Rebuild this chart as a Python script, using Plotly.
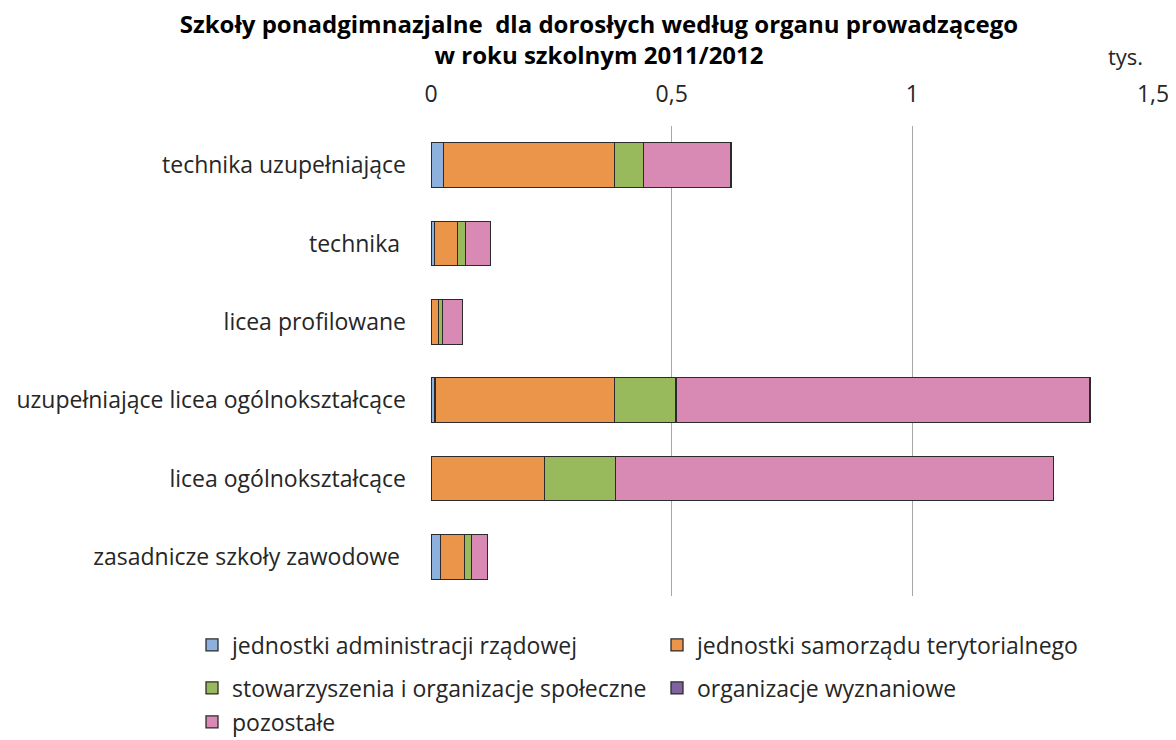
import plotly.graph_objects as go

categories = [
    "technika uzupełniające",
    "technika",
    "licea profilowane",
    "uzupełniające licea ogólnokształcące",
    "licea ogólnokształcące",
    "zasadnicze szkoły zawodowe",
]
# as printed on the chart (two labels carry a trailing space)
category_labels = [
    "technika uzupełniające",
    "technika\u00a0",
    "licea profilowane",
    "uzupełniające licea ogólnokształcące",
    "licea ogólnokształcące",
    "zasadnicze szkoły zawodowe\u00a0",
]

series_names = [
    "jednostki administracji rządowej",
    "jednostki samorządu terytorialnego",
    "stowarzyszenia i organizacje społeczne",
    "organizacje wyznaniowe",
    "pozostałe",
]

admin_rzadowa = [0.026, 0.007, 0.001, 0.008, 0.000, 0.020]
samorzad = [0.355, 0.048, 0.014, 0.373, 0.236, 0.049]
stowarzyszenia = [0.060, 0.016, 0.009, 0.127, 0.147, 0.015]
wyznaniowe = [0.000, 0.000, 0.000, 0.002, 0.000, 0.000]
pozostale = [0.182, 0.053, 0.041, 0.859, 0.910, 0.033]

colors = ["#8DB1DC", "#EB954A", "#98B95C", "#7F62A0", "#D889B4"]

tick_vals = [0, 0.5, 1, 1.5]
tick_text = ["0", "0,5", "1", "1,5"]

font_family = "'Open Sans', Lato, sans-serif"

# the page places the figure 8px from the top-left corner (body margin)
OFF = 8
W, H = 1176 - OFF, 740 - OFF
ML, MT = 431 - OFF, 126 - OFF
MR = W - (1153 - OFF)
MB = H - (596 - OFF)
PW, PH = W - ML - MR, H - MT - MB


def px_x(x):
    """page pixel x -> paper coordinate"""
    return (x - OFF - ML) / PW


def px_y(y):
    """page pixel y -> paper coordinate"""
    return (H - MB - (y - OFF)) / PH


legend_of = ["legend", "legend", "legend2", "legend2", "legend3"]

fig = go.Figure()
for name, vals, col, lg in zip(series_names,
                               [admin_rzadowa, samorzad, stowarzyszenia, wyznaniowe, pozostale],
                               colors, legend_of):
    fig.add_trace(go.Bar(
        y=categories, x=vals, name=name, orientation="h",
        marker=dict(color=col, line=dict(color="#2B2B2B", width=1.3)),
        legend=lg,
    ))

legend_common = dict(
    orientation="h", xanchor="left", yanchor="middle",
    entrywidth=420, entrywidthmode="pixels",
    font=dict(family=font_family, size=23, color="#262626"),
    traceorder="normal", itemwidth=30, bgcolor="rgba(0,0,0,0)",
)

fig.update_layout(
    barmode="stack",
    bargap=0.43,
    width=W, height=H,
    margin=dict(l=ML, r=MR, t=MT, b=MB, autoexpand=False),
    paper_bgcolor="white", plot_bgcolor="white",
    font=dict(family=font_family, size=23, color="#262626"),
    title=dict(
        text="<b>Szkoły ponadgimnazjalne  dla dorosłych według organu prowadzącego<br>w roku szkolnym 2011/2012</b>",
        x=(599 - OFF) / W, xref="container", xanchor="center",
        y=1 - 25 / H, yref="container", yanchor="top",
        font=dict(family=font_family, size=24, color="black"),
    ),
    xaxis=dict(
        side="top", range=[0, 1.5], tickvals=tick_vals, ticktext=tick_text,
        showgrid=True, gridcolor="#A6A6A6", gridwidth=1.3,
        zeroline=False, showline=False, ticks="",
        ticklabelstandoff=18,
        tickfont=dict(family=font_family, size=23, color="#262626"),
    ),
    yaxis=dict(
        autorange="reversed", showgrid=False, zeroline=False, showline=False,
        ticks="", ticklabelstandoff=24,
        tickmode="array", tickvals=categories, ticktext=category_labels,
        tickfont=dict(family=font_family, size=23, color="#262626"),
    ),
    legend=dict(x=px_x(192), y=px_y(645), **legend_common),
    legend2=dict(x=px_x(192), y=px_y(688), **legend_common),
    legend3=dict(x=px_x(192), y=px_y(722), **legend_common),
    showlegend=True,
    annotations=[dict(
        text="tys.", x=px_x(1125), y=px_y(56), xref="paper", yref="paper",
        showarrow=False, xanchor="center", yanchor="middle",
        font=dict(family=font_family, size=22, color="#262626"),
    )],
)

fig.write_html("out.html")
